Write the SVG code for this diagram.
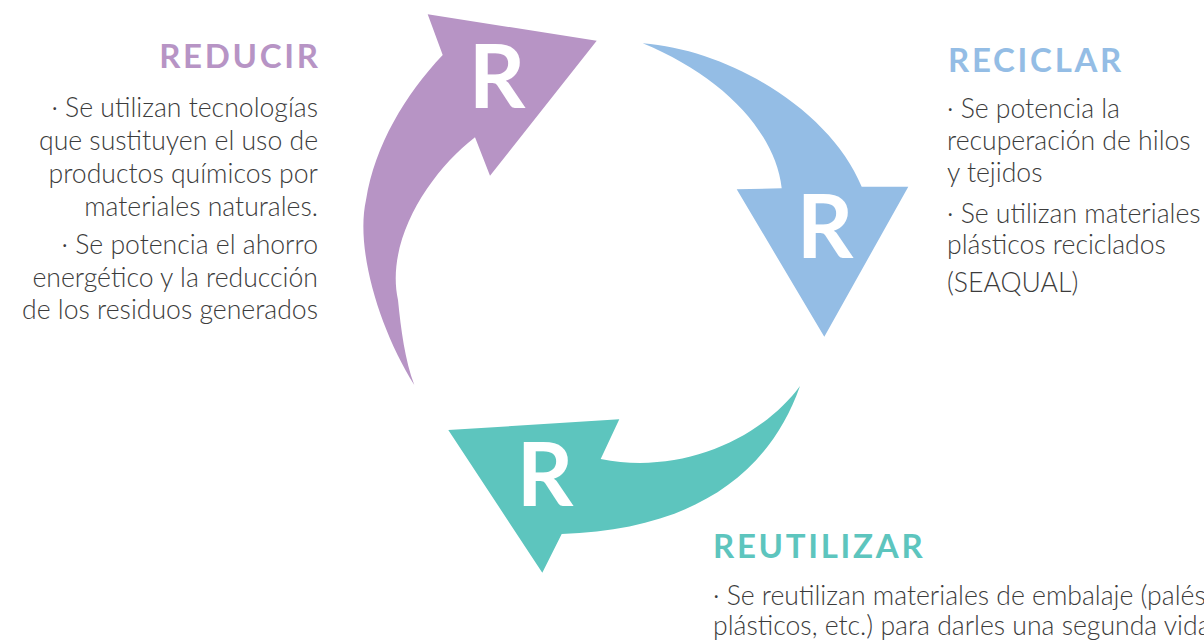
<svg xmlns="http://www.w3.org/2000/svg" width="1204" height="642" viewBox="0 0 1204 642">
<style>
.r{font-family:Lato,"Open Sans","DejaVu Sans",sans-serif;font-weight:700;font-size:88px;fill:#ffffff;text-anchor:middle}
.h{font-family:Lato,"Open Sans","DejaVu Sans",sans-serif;font-weight:700;font-size:33px;letter-spacing:2.7px}
.b{font-family:Lato,"Open Sans","DejaVu Sans",sans-serif;font-weight:300;font-size:26.6px;fill:#3c3c3c}
.end{text-anchor:end}
</style>
<rect width="1204" height="642" fill="#ffffff"/>
<g id="connectors">
<path id="arrow-reducir" fill="#B794C5" d="M442.7,55 L427.7,14.3 L596.7,40.7 L490,175.7 L475,137.3 C430,172 385,240 398,300 C401,330 405,360 414.3,385 C380,330 355,250 366,200 C375,145 405,95 442.7,55 Z"/>
<path id="arrow-reciclar" fill="#94BDE5" d="M642.7,43.3 C730,50 830,110 861.7,186.7 L908.3,186.7 L824.3,336.7 L736.7,189.3 L781.7,188.3 C775,130 720,75 642.7,43.3 Z"/>
<path id="arrow-reutilizar" fill="#5DC5BE" d="M800,386 C760,440 680,475 600.7,459 L619.3,419.3 L448.3,430 L542.3,572.7 L561.7,534 C680,530 765,485 800,386 Z"/>
</g>
<g id="node-reducir">
<text class="r" x="497" y="108">R</text>
<text class="h end" x="320.7" y="68" fill="#B794C5">REDUCIR</text>
<text class="b end" x="318" y="117">· Se utilizan tecnologías</text>
<text class="b end" x="318" y="150">que sustituyen el uso de</text>
<text class="b end" x="318" y="183">productos químicos por</text>
<text class="b end" x="318" y="215.5">materiales naturales.</text>
<text class="b end" x="318" y="254">· Se potencia el ahorro</text>
<text class="b end" x="318" y="286.5">energético y la reducción</text>
<text class="b end" x="318" y="319">de los residuos generados</text>
</g>
<g id="node-reciclar">
<text class="r" x="825" y="258">R</text>
<text class="h" x="948" y="71.5" fill="#94BDE5">RECICLAR</text>
<text class="b" x="947" y="118">· Se potencia la</text>
<text class="b" x="947" y="150">recuperación de hilos</text>
<text class="b" x="947" y="182">y tejidos</text>
<text class="b" x="947" y="222.5">· Se utilizan materiales</text>
<text class="b" x="947" y="253.5">plásticos reciclados</text>
<text class="b" x="947" y="291.5">(SEAQUAL)</text>
</g>
<g id="node-reutilizar">
<text class="r" x="545" y="506">R</text>
<text class="h" x="713" y="558" fill="#5DC5BE">REUTILIZAR</text>
<text class="b" x="713" y="604.5">· Se reutilizan materiales de embalaje (palés,</text>
<text class="b" x="713" y="635">plásticos, etc.) para darles una segunda vida</text>
</g>
</svg>
